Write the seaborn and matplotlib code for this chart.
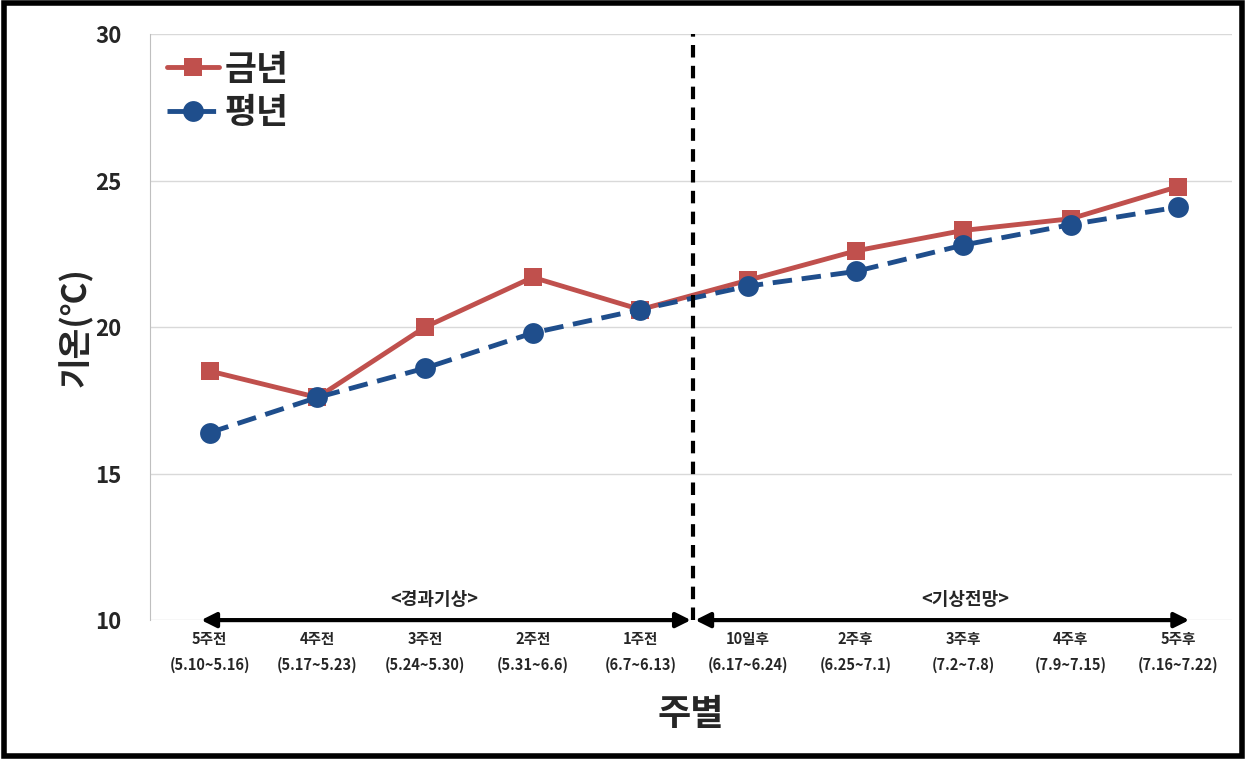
import numpy as np
import pandas as pd
import matplotlib
matplotlib.use("Agg")
import matplotlib.pyplot as plt
import seaborn as sns
from matplotlib.patches import Rectangle

# data
weeks = ["5주전", "4주전", "3주전", "2주전", "1주전",
         "10일후", "2주후", "3주후", "4주후", "5주후"]
periods = ["(5.10~5.16)", "(5.17~5.23)", "(5.24~5.30)", "(5.31~6.6)", "(6.7~6.13)",
           "(6.17~6.24)", "(6.25~7.1)", "(7.2~7.8)", "(7.9~7.15)", "(7.16~7.22)"]
this_year = [18.5, 17.6, 20.0, 21.7, 20.6, 21.6, 22.6, 23.3, 23.7, 24.8]
normal_year = [16.4, 17.6, 18.6, 19.8, 20.6, 21.4, 21.9, 22.8, 23.5, 24.1]
split_labels = ["<경과기상>", "<기상전망>"]

sns.set_style("white")
plt.rcParams['font.family'] = ['Noto Sans CJK KR', 'DejaVu Sans']

df = pd.DataFrame({"x": np.arange(len(weeks)), "금년": this_year, "평년": normal_year})

fig = plt.figure(figsize=(12.46, 7.59), dpi=100)
ax = fig.add_axes([0.120, 0.183, 0.869, 0.772])

red = "#C0504D"
blue = "#1F4E8C"

sns.lineplot(data=df, x="x", y="금년", ax=ax, color=red, lw=3.5, marker="s",
             markersize=13, markeredgewidth=0, label="금년", zorder=4)
sns.lineplot(data=df, x="x", y="평년", ax=ax, color=blue, lw=3.5, marker="o",
             markersize=15, markeredgewidth=0, label="평년", zorder=5)
ax.lines[-1].set_dashes([4, 2])

ax.set_xlim(-0.56, 9.5)
ax.set_ylim(10, 30)
ax.set_yticks([10, 15, 20, 25, 30])
ax.set_yticklabels(["10", "15", "20", "25", "30"], fontsize=16, fontweight="bold")
ax.yaxis.grid(True, color="#D9D9D9", lw=1)
ax.tick_params(axis="y", length=0, pad=20)

ax.set_xticks(np.arange(len(weeks)))
ax.set_xticklabels([w + "\n" + p for w, p in zip(weeks, periods)],
                   fontsize=10.5, fontweight="bold", linespacing=1.7)
ax.tick_params(axis="x", length=0, pad=8)

for side in ["top", "right", "bottom"]:
    ax.spines[side].set_visible(False)
ax.spines["left"].set_color("#BFBFBF")

ax.set_ylabel("기온(℃)", fontsize=24, fontweight="bold", labelpad=2)
ax.set_xlabel("주별", fontsize=26, fontweight="bold", labelpad=17)

# divider between observed and forecast
ax.axvline(4.49, ymin=0, ymax=1, color="black", lw=3, ls=(0, (3, 2)), zorder=6)

# double-headed arrows along the bottom
arrow_kw = dict(arrowstyle="<|-|>", color="black", lw=3, mutation_scale=22, shrinkA=0, shrinkB=0)
ax.annotate("", xy=(-0.08, 10), xytext=(4.47, 10), arrowprops=arrow_kw, annotation_clip=False, zorder=7)
ax.annotate("", xy=(4.51, 10), xytext=(9.1, 10), arrowprops=arrow_kw, annotation_clip=False, zorder=7)
ax.text(2.09, 10.7, split_labels[0], ha="center", va="center", fontsize=13, fontweight="bold")
ax.text(7.02, 10.7, split_labels[1], ha="center", va="center", fontsize=13, fontweight="bold")

leg = ax.legend(loc="upper left", frameon=False, prop={"size": 25, "weight": "bold"},
                handlelength=1.5, handletextpad=0.15, borderaxespad=0.1, labelspacing=0.25)

fig.patches.append(Rectangle((0.003, 0.004), 0.994, 0.992, transform=fig.transFigure,
                             fill=False, edgecolor="black", lw=4))

fig.savefig("out.png", dpi=100)
